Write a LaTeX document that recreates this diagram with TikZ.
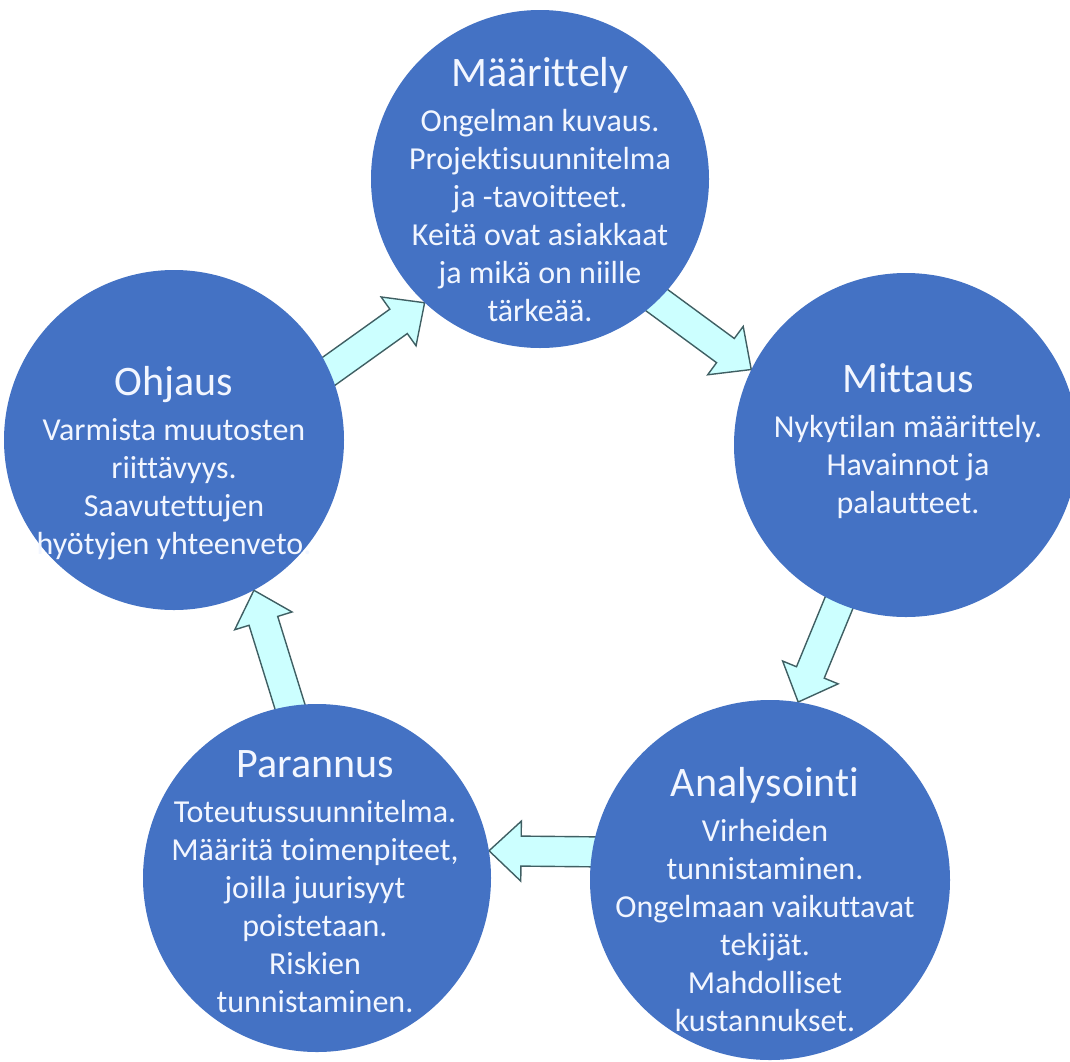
\documentclass[tikz,border=0pt]{standalone}
\usepackage{fontspec}
\setmainfont{Carlito}[Ligatures=NoCommon]
\usetikzlibrary{calc,backgrounds}

\definecolor{discblue}{HTML}{4472C4}
\definecolor{arrowfill}{HTML}{CCFFFF}
\definecolor{arrowline}{HTML}{3F5F63}
\definecolor{disctext}{HTML}{F2F6FF}

% title line of a phase: fixed strut so the baseline sits 32pt below the node top
\newcommand\phasetitle[1]{{\fontsize{42}{46}\selectfont\rule{0pt}{32pt}#1}\\[7pt]}

\tikzset{
  disc/.style={circle, fill=discblue, draw=none, inner sep=0pt},
  disclabel/.style={anchor=north, align=center, text=disctext, inner sep=0pt,
    font=\fontsize{32}{38}\selectfont},
  blockarrow/.style={fill=arrowfill, draw=arrowline, line width=1.4pt, line join=miter},
}

% block arrow whose shaft starts (hidden) inside #1 and whose tip touches #2
\newcommand\blockarrow[2]{%
  \draw[blockarrow] let \p1=($(#2)-(#1)$), \n1={atan2(\y1,\x1)}, \n2={veclen(\x1,\y1)+30} in
    (#2) -- ($(#2)+({\n1+180}:32pt)+({\n1+90}:30pt)$)
    -- ($(#2)+({\n1+180}:32pt)+({\n1+90}:15pt)$)
    -- ($(#2)+({\n1+180}:{\n2*1pt})+({\n1+90}:15pt)$)
    -- ($(#2)+({\n1+180}:{\n2*1pt})+({\n1-90}:15pt)$)
    -- ($(#2)+({\n1+180}:32pt)+({\n1-90}:15pt)$)
    -- ($(#2)+({\n1+180}:32pt)+({\n1-90}:30pt)$)
    -- cycle;
}

\begin{document}
\begin{tikzpicture}[x=1pt,y=-1pt]
\useasboundingbox (0,0) rectangle (1070,1061);

% the five phases
\node[disc, minimum size=338pt] (A) at (540,179) {};
\node[disc, minimum size=344pt] (B) at (906,445) {};
\node[disc, minimum size=360pt] (C) at (770,880) {};
\node[disc, minimum size=348pt] (D) at (317,878) {};
\node[disc, minimum size=340pt] (E) at (174,440) {};

\node[disclabel] (At) at (540,54) {\phasetitle{Määrittely}Ongelman kuvaus.\\Projektisuunnitelma\\ja -tavoitteet.\\Keitä ovat asiakkaat\\ja mikä on niille\\tärkeää.};
\node[disclabel] (Bt) at (908,360) {\phasetitle{Mittaus}Nykytilan määrittely.\\Havainnot ja\\palautteet.};
\node[disclabel] (Ct) at (765,764) {\phasetitle{Analysointi}Virheiden\\tunnistaminen.\\Ongelmaan vaikuttavat\\tekijät.\\Mahdolliset\\kustannukset.};
\node[disclabel] (Dt) at (315,745) {\phasetitle{Parannus}Toteutussuunnitelma.\\Määritä toimenpiteet,\\joilla juurisyyt\\poistetaan.\\Riskien\\tunnistaminen.};
\node[disclabel] (Et) at (174,363) {\phasetitle{Ohjaus}Varmista muutosten\\riittävyys.\\Saavutettujen\\hyötyjen yhteenveto.};

% connectors between the phases, behind the discs
\begin{pgfonlayer}{background}
  \fill[white] (0,0) rectangle (1070,1061);
  \coordinate (s1) at (E.24);  \coordinate (t1) at (A.227);
  \coordinate (s2) at (A.-46); \coordinate (t2) at (B.154);
  \coordinate (s3) at (B.247); \coordinate (t3) at (C.81);
  \coordinate (s4) at (C.171); \coordinate (t4) at (D.9);
  \coordinate (s5) at (D.99);  \coordinate (t5) at (E.-62);
  \blockarrow{s1}{t1}
  \blockarrow{s2}{t2}
  \blockarrow{s3}{t3}
  \blockarrow{s4}{t4}
  \blockarrow{s5}{t5}
\end{pgfonlayer}
\end{tikzpicture}
\end{document}
